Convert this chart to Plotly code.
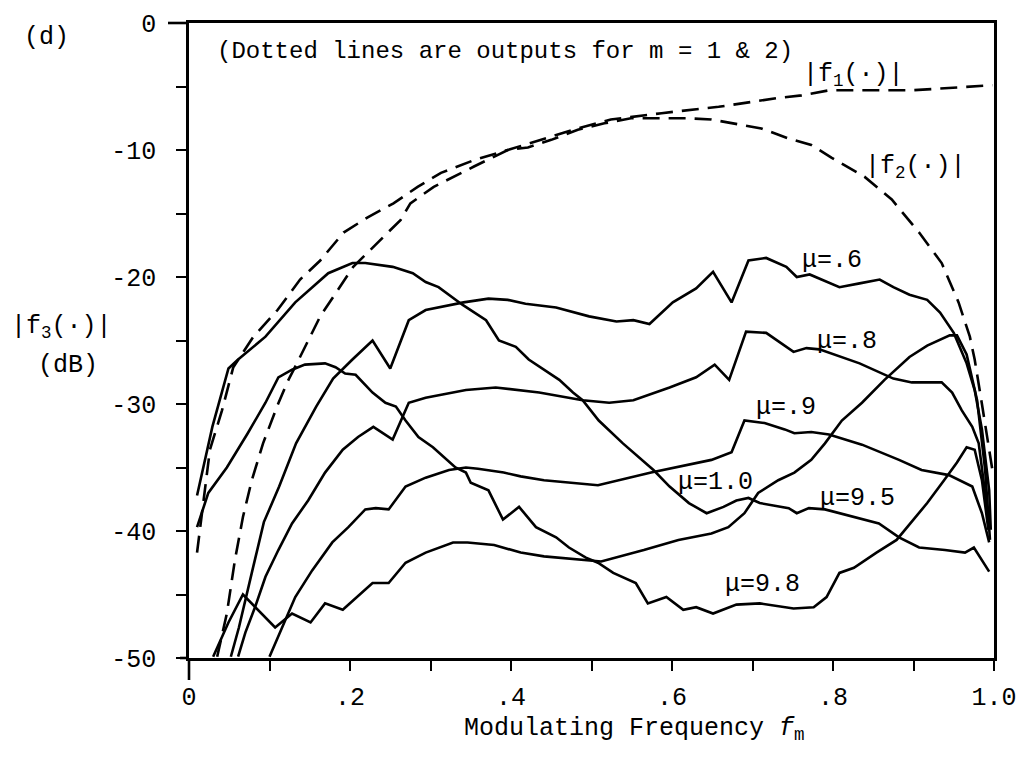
import plotly.graph_objects as go

# ---------------- data ----------------
f1_x = [0.010, 0.026, 0.041, 0.055, 0.080, 0.110, 0.138, 0.163, 0.192, 0.222, 0.254, 0.284,
        0.313, 0.354, 0.396, 0.441, 0.483, 0.524, 0.587, 0.658, 0.732, 0.761, 0.795, 0.898, 0.998]
f1_y = [-41.7, -33.6, -30.5, -27.1, -24.7, -22.6, -20.2, -18.7, -16.5, -15.3, -14.2, -12.9,
        -11.8, -10.8, -10.0, -9.1, -8.3, -7.6, -7.1, -6.6, -5.9, -5.7, -5.3, -5.3, -4.9]

f2_x = [0.035, 0.047, 0.057, 0.067, 0.078, 0.092, 0.110, 0.122, 0.134, 0.163, 0.204, 0.247,
        0.263, 0.275, 0.304, 0.354, 0.396, 0.421, 0.450, 0.483, 0.516, 0.549, 0.620, 0.649,
        0.682, 0.711, 0.745, 0.773, 0.798, 0.839, 0.873, 0.907, 0.935, 0.956, 0.970, 0.976,
        0.985, 0.994, 0.998]
f2_y = [-49.9, -46.5, -42.3, -38.9, -36.0, -33.1, -30.1, -28.3, -26.8, -23.1, -19.2, -16.5,
        -15.5, -14.2, -12.9, -11.3, -10.0, -9.8, -9.2, -8.4, -7.9, -7.5, -7.5, -7.6,
        -8.0, -8.3, -9.1, -9.6, -10.6, -12.1, -13.9, -16.5, -18.9, -22.0, -24.7, -26.5,
        -30.0, -33.5, -35.2]

mu06_x = [0.052, 0.062, 0.078, 0.093, 0.112, 0.133, 0.158, 0.179, 0.203, 0.228, 0.250, 0.273,
          0.294, 0.341, 0.372, 0.396, 0.418, 0.456, 0.497, 0.531, 0.552, 0.572, 0.601, 0.630,
          0.651, 0.674, 0.695, 0.717, 0.742, 0.755, 0.771, 0.808, 0.833, 0.858, 0.875, 0.895,
          0.917, 0.933, 0.950, 0.966, 0.976, 0.985, 0.994, 0.996]
mu06_y = [-49.9, -47.6, -43.3, -39.3, -36.5, -33.1, -30.2, -28.0, -26.5, -25.0, -27.2, -23.4,
          -22.6, -22.0, -21.7, -21.8, -22.1, -22.4, -23.1, -23.5, -23.4, -23.7, -22.0, -20.9,
          -19.6, -22.0, -18.7, -18.5, -19.2, -20.0, -19.8, -20.8, -20.5, -20.2, -20.8, -21.4,
          -21.8, -22.8, -24.4, -26.8, -28.9, -32.0, -36.8, -39.9]

mu08_x = [0.061, 0.070, 0.082, 0.095, 0.111, 0.128, 0.148, 0.169, 0.191, 0.210, 0.229, 0.253,
          0.273, 0.294, 0.344, 0.381, 0.435, 0.489, 0.522, 0.552, 0.597, 0.630, 0.653, 0.671,
          0.692, 0.717, 0.751, 0.767, 0.783, 0.833, 0.875, 0.898, 0.935, 0.948, 0.960, 0.973,
          0.981, 0.989, 0.994]
mu08_y = [-49.9, -48.0, -46.0, -43.6, -41.5, -39.4, -37.6, -35.4, -33.6, -32.6, -31.8, -32.8,
          -29.9, -29.5, -28.9, -28.7, -29.1, -29.7, -29.9, -29.7, -28.7, -27.9, -26.9, -28.1,
          -24.3, -24.4, -25.9, -25.6, -25.7, -26.8, -28.0, -28.3, -28.3, -29.1, -30.5, -31.8,
          -33.1, -37.3, -39.5]

mu09_x = [0.100, 0.116, 0.132, 0.153, 0.178, 0.198, 0.219, 0.232, 0.248, 0.269, 0.294, 0.323,
          0.344, 0.359, 0.391, 0.412, 0.441, 0.508, 0.574, 0.649, 0.674, 0.690, 0.715, 0.740,
          0.752, 0.773, 0.795, 0.836, 0.882, 0.910, 0.944, 0.973, 0.985, 0.994]
mu09_y = [-49.9, -47.6, -45.2, -43.1, -40.9, -39.7, -38.3, -38.2, -38.3, -36.5, -35.8, -35.2,
          -35.0, -35.1, -35.4, -35.7, -36.0, -36.4, -35.4, -34.4, -33.8, -31.3, -31.5, -32.0,
          -32.3, -32.2, -32.4, -33.2, -34.4, -35.2, -35.6, -36.5, -38.6, -40.9]

mu10_x = [0.030, 0.049, 0.067, 0.085, 0.107, 0.128, 0.151, 0.169, 0.191, 0.228, 0.248, 0.269,
          0.294, 0.328, 0.346, 0.379, 0.412, 0.441, 0.512, 0.565, 0.608, 0.649, 0.670, 0.690,
          0.707, 0.732, 0.752, 0.773, 0.790, 0.811, 0.836, 0.864, 0.895, 0.917, 0.945, 0.954,
          0.966, 0.979, 0.989, 0.995]
mu10_y = [-49.9, -47.2, -45.0, -46.2, -47.6, -46.5, -47.2, -45.7, -46.2, -44.1, -44.1, -42.5,
          -41.7, -40.9, -40.9, -41.1, -41.7, -42.0, -42.4, -41.5, -40.7, -40.2, -39.7, -38.6,
          -37.0, -36.0, -35.4, -34.4, -33.1, -31.3, -29.9, -28.1, -26.3, -25.4, -24.6, -24.6,
          -26.1, -29.7, -35.2, -40.7]

mu95_x = [0.010, 0.029, 0.049, 0.061, 0.095, 0.132, 0.173, 0.203, 0.219, 0.253, 0.278, 0.294,
          0.310, 0.340, 0.369, 0.385, 0.406, 0.422, 0.460, 0.477, 0.489, 0.509, 0.539, 0.559,
          0.577, 0.597, 0.621, 0.643, 0.664, 0.680, 0.695, 0.709, 0.727, 0.745, 0.755, 0.770,
          0.790, 0.814, 0.857, 0.882, 0.907, 0.939, 0.964, 0.975, 0.994]
mu95_y = [-37.2, -31.8, -27.2, -26.5, -24.7, -22.0, -19.7, -18.9, -18.9, -19.2, -19.7, -20.4,
          -20.8, -22.2, -23.4, -25.0, -25.5, -26.5, -28.1, -29.1, -29.7, -31.3, -33.1, -34.2,
          -35.2, -36.5, -37.8, -38.6, -38.1, -37.6, -37.4, -37.8, -38.0, -38.2, -38.6, -38.2,
          -38.3, -38.7, -39.4, -40.5, -41.3, -41.5, -41.7, -41.3, -43.2]

mu98_x = [0.010, 0.024, 0.047, 0.073, 0.095, 0.111, 0.128, 0.144, 0.169, 0.182, 0.194, 0.207,
          0.228, 0.244, 0.257, 0.269, 0.285, 0.303, 0.331, 0.344, 0.350, 0.372, 0.390, 0.410,
          0.431, 0.456, 0.472, 0.493, 0.508, 0.527, 0.555, 0.570, 0.593, 0.614, 0.630, 0.651,
          0.680, 0.709, 0.751, 0.776, 0.792, 0.808, 0.826, 0.854, 0.879, 0.892, 0.917, 0.938,
          0.954, 0.966, 0.976, 0.985, 0.993]
mu98_y = [-39.7, -37.0, -35.0, -32.3, -29.9, -27.9, -27.3, -26.9, -26.8, -27.1, -27.6, -27.7,
          -29.1, -29.9, -30.2, -31.3, -32.6, -33.4, -35.0, -35.4, -36.2, -36.8, -39.1, -38.1,
          -39.7, -40.5, -41.3, -42.1, -42.5, -43.3, -44.1, -45.7, -45.2, -46.2, -46.0, -46.5,
          -45.8, -45.7, -46.1, -46.0, -45.2, -43.3, -42.9, -41.7, -40.7, -39.7, -37.8, -36.0,
          -34.6, -33.4, -33.6, -36.0, -39.9]

x_tickvals = [0.0, 0.1, 0.2, 0.3, 0.4, 0.5, 0.6, 0.7, 0.8, 0.9, 1.0]
x_ticktext = ["0", "", ".2", "", ".4", "", ".6", "", ".8", "", "1.0"]
y_tickvals = [-50, -45, -40, -35, -30, -25, -20, -15, -10, -5, 0]
y_ticktext = ["-50\u00a0", "", "-40\u00a0", "", "-30\u00a0", "", "-20\u00a0", "", "-10\u00a0", "", "0\u00a0"]

FONT = "Liberation Mono"
FS = 25
INK = "black"
LW = 2.6

fig = go.Figure()

dashed = [("|f1(·)|", f1_x, f1_y), ("|f2(·)|", f2_x, f2_y)]
for name, xs, ys in dashed:
    fig.add_trace(go.Scatter(x=xs, y=ys, mode="lines", name=name,
                             line=dict(color=INK, width=LW, dash="17px,9px"),
                             showlegend=False, cliponaxis=True))

solid = [("μ=.6", mu06_x, mu06_y), ("μ=.8", mu08_x, mu08_y), ("μ=.9", mu09_x, mu09_y),
         ("μ=1.0", mu10_x, mu10_y), ("μ=9.5", mu95_x, mu95_y), ("μ=9.8", mu98_x, mu98_y)]
for name, xs, ys in solid:
    fig.add_trace(go.Scatter(x=xs, y=ys, mode="lines", name=name,
                             line=dict(color=INK, width=LW),
                             showlegend=False, cliponaxis=True))

# annotation helper: pixel position -> paper coords
L, R, T, B = 189, 994, 23, 658
def px(xp):
    return (xp - L) / (R - L)
def py(yp):
    return (B - yp) / (B - T)

def label(text, xp, yp, xanchor="center", size=FS):
    fig.add_annotation(x=px(xp), y=py(yp), xref="paper", yref="paper", text=text,
                       showarrow=False, xanchor=xanchor, yanchor="middle",
                       font=dict(family=FONT, size=size, color=INK))

label("(d)", 46, 37)
label("(Dotted lines are outputs for m = 1 &amp; 2)", 505, 52, size=24)
label("|f<sub>1</sub>(·)|", 853, 75)
label("|f<sub>2</sub>(·)|", 915, 167)
label("|f<sub>3</sub>(·)|", 61, 327)
label("(dB)", 68, 365)
label("μ=.6", 832, 260)
label("μ=.8", 847, 342)
label("μ=.9", 786, 407)
label("μ=1.0", 715, 482)
label("μ=9.5", 857, 498)
label("μ=9.8", 762, 584)
label("Modulating Frequency <i>f</i><sub>m</sub>", 462, 730, xanchor="left")

# small axis-line extensions seen in the reference
line_style = dict(color=INK, width=LW)
fig.add_shape(type="line", xref="paper", yref="paper", x0=px(168), x1=0, y0=1, y1=1, line=line_style)
fig.add_shape(type="line", xref="paper", yref="paper", x0=px(180), x1=0, y0=0, y1=0, line=line_style)
fig.add_shape(type="line", xref="paper", yref="paper", x0=0, x1=0, y0=py(680), y1=0, line=line_style)

fig.update_layout(
    width=1030, height=760,
    margin=dict(l=L, r=1030 - R, t=T, b=760 - B),
    paper_bgcolor="white", plot_bgcolor="white",
    font=dict(family=FONT, size=FS, color=INK),
    showlegend=False,
    xaxis=dict(range=[0, 1.0], tickvals=x_tickvals, ticktext=x_ticktext,
               showline=True, linecolor=INK, linewidth=LW, mirror=True,
               ticks="outside", ticklen=10, tickwidth=2.2, tickcolor=INK,
               ticklabelstandoff=4,
               showgrid=False, zeroline=False,
               tickfont=dict(family=FONT, size=FS, color=INK)),
    yaxis=dict(range=[-50, 0], tickvals=y_tickvals, ticktext=y_ticktext,
               showline=True, linecolor=INK, linewidth=LW, mirror=True,
               ticks="outside", ticklen=10, tickwidth=2.2, tickcolor=INK,
               showgrid=False, zeroline=False,
               tickfont=dict(family=FONT, size=FS, color=INK)),
)

fig.write_html("out.html")
